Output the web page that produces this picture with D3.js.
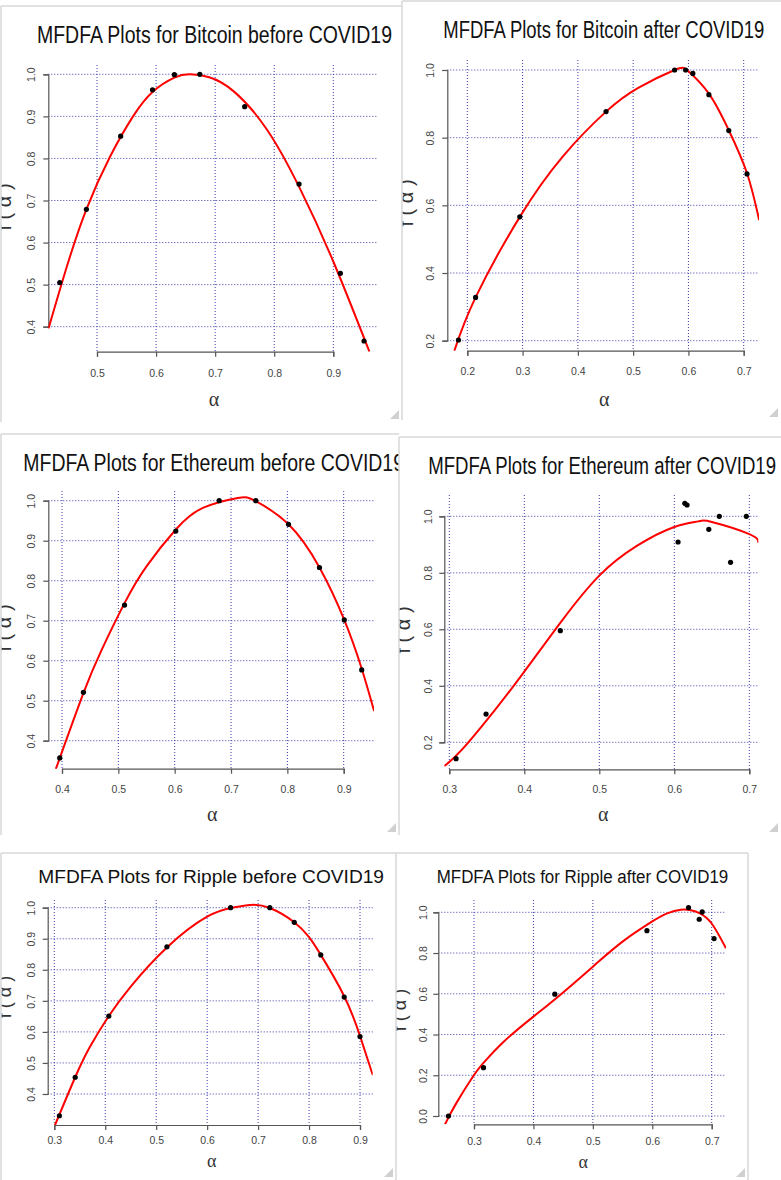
<!DOCTYPE html>
<html>
<head>
<meta charset="utf-8">
<title>MFDFA Plots</title>
<style>
body { margin: 0; background: #fff; }
svg { display: block; font-family: "Liberation Sans", Arial, sans-serif; }
.grid line { stroke: #3c3cac; stroke-width: 1; stroke-dasharray: 1,2; }
.axis path, .axis line { stroke: #555; stroke-width: 1.2; }
.axis text { fill: #444; font-size: 10.5px; font-family: "Liberation Sans", Arial, sans-serif; }
.frame { fill: none; stroke: #d8d8d8; stroke-width: 1.5; }
</style>
<script src="https://cdn.jsdelivr.net/npm/d3@7"></script>
</head>
<body>
<svg id="chart" width="781" height="1180"></svg>
<script>
// ---- data ----
// Bitcoin before
const btcBeforeAlpha = [0.437, 0.482, 0.540, 0.594, 0.631, 0.674, 0.750, 0.842, 0.912, 0.952];
const btcBeforeF     = [0.505, 0.679, 0.853, 0.963, 0.999, 1.000, 0.923, 0.739, 0.527, 0.366];
const btcBeforeFitAlpha = [0.418, 0.449, 0.482, 0.522, 0.561, 0.594, 0.631, 0.657, 0.690, 0.731, 0.787, 0.843, 0.900, 0.961];
const btcBeforeFitF     = [0.396, 0.543, 0.679, 0.804, 0.900, 0.958, 0.992, 1.000, 0.993, 0.960, 0.870, 0.730, 0.555, 0.341];
const btcBeforeTicksX = [0.5, 0.6, 0.7, 0.8, 0.9];
const btcBeforeTicksY = [0.4, 0.5, 0.6, 0.7, 0.8, 0.9, 1.0];

// Bitcoin after
const btcAfterAlpha = [0.184, 0.215, 0.295, 0.451, 0.575, 0.595, 0.608, 0.637, 0.673, 0.706];
const btcAfterF     = [0.202, 0.328, 0.566, 0.877, 1.000, 1.000, 0.990, 0.927, 0.821, 0.693];
const btcAfterFitAlpha = [0.1765, 0.215, 0.295, 0.373, 0.451, 0.510, 0.575, 0.600, 0.637, 0.673, 0.706, 0.728];
const btcAfterFitF     = [0.170, 0.328, 0.566, 0.745, 0.877, 0.948, 1.000, 0.996, 0.930, 0.822, 0.695, 0.556];
const btcAfterTicksX = [0.2, 0.3, 0.4, 0.5, 0.6, 0.7];
const btcAfterTicksY = [0.2, 0.4, 0.6, 0.8, 1.0];

// Ethereum before
const ethBeforeAlpha = [0.396, 0.438, 0.511, 0.602, 0.679, 0.744, 0.802, 0.857, 0.901, 0.932];
const ethBeforeF     = [0.357, 0.521, 0.739, 0.924, 1.000, 1.000, 0.941, 0.833, 0.702, 0.577];
const ethBeforeFitAlpha = [0.389, 0.438, 0.470, 0.511, 0.550, 0.602, 0.650, 0.712, 0.744, 0.802, 0.857, 0.901, 0.932, 0.954];
const ethBeforeFitF     = [0.329, 0.519, 0.626, 0.744, 0.836, 0.928, 0.982, 1.007, 0.999, 0.941, 0.833, 0.702, 0.580, 0.474];
const ethBeforeTicksX = [0.4, 0.5, 0.6, 0.7, 0.8, 0.9];
const ethBeforeTicksY = [0.4, 0.5, 0.6, 0.7, 0.8, 0.9, 1.0];

// Ethereum after
const ethAfterAlpha = [0.309, 0.349, 0.448, 0.605, 0.614, 0.617, 0.646, 0.660, 0.675, 0.696];
const ethAfterF     = [0.142, 0.300, 0.595, 0.909, 1.046, 1.040, 0.954, 1.000, 0.837, 1.000];
const ethAfterFitAlpha = [0.2933, 0.3165, 0.361, 0.400, 0.450, 0.500, 0.550, 0.600, 0.632, 0.650, 0.700, 0.712];
const ethAfterFitF     = [0.116, 0.173, 0.315, 0.450, 0.630, 0.790, 0.895, 0.962, 0.982, 0.980, 0.937, 0.906];
const ethAfterTicksX = [0.3, 0.4, 0.5, 0.6, 0.7];
const ethAfterTicksY = [0.2, 0.4, 0.6, 0.8, 1.0];

// Ripple before
const xrpBeforeAlpha = [0.310, 0.341, 0.407, 0.521, 0.646, 0.723, 0.771, 0.823, 0.869, 0.900];
const xrpBeforeF     = [0.330, 0.454, 0.651, 0.874, 1.000, 1.000, 0.953, 0.848, 0.712, 0.585];
const xrpBeforeFitAlpha = [0.3014, 0.341, 0.370, 0.407, 0.450, 0.521, 0.600, 0.650, 0.685, 0.723, 0.771, 0.800, 0.823, 0.869, 0.900, 0.925];
const xrpBeforeFitF     = [0.300, 0.454, 0.552, 0.651, 0.746, 0.872, 0.971, 1.000, 1.009, 0.999, 0.953, 0.905, 0.848, 0.715, 0.587, 0.461];
const xrpBeforeTicksX = [0.3, 0.4, 0.5, 0.6, 0.7, 0.8, 0.9];
const xrpBeforeTicksY = [0.4, 0.5, 0.6, 0.7, 0.8, 0.9, 1.0];

// Ripple after
const xrpAfterAlpha = [0.257, 0.316, 0.436, 0.591, 0.661, 0.679, 0.684, 0.704];
const xrpAfterF     = [0.000, 0.237, 0.598, 0.910, 1.023, 0.966, 1.002, 0.871];
const xrpAfterFitAlpha = [0.2512, 0.270, 0.300, 0.3163, 0.350, 0.400, 0.4363, 0.500, 0.550, 0.600, 0.625, 0.648, 0.665, 0.680, 0.700, 0.724];
const xrpAfterFitF     = [-0.041, 0.062, 0.201, 0.262, 0.365, 0.488, 0.573, 0.733, 0.856, 0.955, 0.995, 1.013, 1.010, 0.995, 0.945, 0.823];
const xrpAfterTicksX = [0.3, 0.4, 0.5, 0.6, 0.7];
const xrpAfterTicksY = [0.0, 0.2, 0.4, 0.6, 0.8, 1.0];

// ---- where each screenshot sits on the page ----
// frame: [x, y, w, h]; plot: [left, top, right, bottom]; xPx/yPx: pixel of first and last tick
const panels = [
  { title: "MFDFA Plots for Bitcoin before COVID19", alpha: btcBeforeAlpha, f: btcBeforeF,
    fitAlpha: btcBeforeFitAlpha, fitF: btcBeforeFitF, ticksX: btcBeforeTicksX, ticksY: btcBeforeTicksY,
    frame: [1, 6, 401, 416], edges: "lt", plot: [48.3, 65, 377, 351.7], xPx: [97, 333.3], yPx: [326.7, 74.3],
    titleX: [37, 392], titleY: 43.3, titleSize: 23, xLabOff: 25, yLabOff: 13,
    alphaPos: [214, 406], fLab: [11, 207], labSize: 20 },
  { title: "MFDFA Plots for Bitcoin after COVID19", alpha: btcAfterAlpha, f: btcAfterF,
    fitAlpha: btcAfterFitAlpha, fitF: btcAfterFitF, ticksX: btcAfterTicksX, ticksY: btcAfterTicksY,
    frame: [402, 1, 379, 419], edges: "lt", plot: [447.3, 60, 759, 350.7], xPx: [467.3, 743.7], yPx: [340.7, 70],
    titleX: [443.3, 764.3], titleY: 38.3, titleSize: 23, xLabOff: 24.5, yLabOff: 13,
    alphaPos: [604.3, 406], fLab: [413, 203], labSize: 20 },
  { title: "MFDFA Plots for Ethereum before COVID19", alpha: ethBeforeAlpha, f: ethBeforeF,
    fitAlpha: ethBeforeFitAlpha, fitF: ethBeforeFitF, ticksX: ethBeforeTicksX, ticksY: ethBeforeTicksY,
    frame: [1, 434, 398, 401], edges: "lt", plot: [48.3, 491, 374, 768.7], xPx: [62, 343.7], yPx: [740.7, 500.7],
    titleX: [23.3, 404], titleY: 471, titleSize: 23, xLabOff: 24, yLabOff: 13,
    alphaPos: [212.3, 821], fLab: [11, 628], labSize: 20 },
  { title: "MFDFA Plots for Ethereum after COVID19", alpha: ethAfterAlpha, f: ethAfterF,
    fitAlpha: ethAfterFitAlpha, fitF: ethAfterFitF, ticksX: ethAfterTicksX, ticksY: ethAfterTicksY,
    frame: [399, 437, 382, 398], edges: "lt", plot: [444.3, 495, 758.3, 769.3], xPx: [449.3, 749.3], yPx: [742.3, 516.3],
    titleX: [428.3, 776], titleY: 474, titleSize: 23, xLabOff: 23.5, yLabOff: 12.4,
    alphaPos: [603.3, 821], fLab: [410, 630], labSize: 20 },
  { title: "MFDFA Plots for Ripple before COVID19", alpha: xrpBeforeAlpha, f: xrpBeforeF,
    fitAlpha: xrpBeforeFitAlpha, fitF: xrpBeforeFitF, ticksX: xrpBeforeTicksX, ticksY: xrpBeforeTicksY,
    frame: [1, 853, 395, 327], edges: "lt", plot: [47.7, 900, 372.7, 1125], xPx: [54.3, 360], yPx: [1094, 907.7],
    titleX: [38.3, 384], titleY: 883.3, titleSize: 18, xLabOff: 18.5, yLabOff: 12.4,
    alphaPos: [211.7, 1167], fLab: [11, 997], labSize: 18 },
  { title: "MFDFA Plots for Ripple after COVID19", alpha: xrpAfterAlpha, f: xrpAfterF,
    fitAlpha: xrpAfterFitAlpha, fitF: xrpAfterFitF, ticksX: xrpAfterTicksX, ticksY: xrpAfterTicksY,
    frame: [396, 853, 352, 327], edges: "ltr", plot: [438.3, 900, 726, 1124.3], xPx: [474, 711.7], yPx: [1116, 912.3],
    titleX: [436.7, 728.3], titleY: 883.3, titleSize: 18, xLabOff: 21, yLabOff: 11.4,
    alphaPos: [583.3, 1168], fLab: [406, 1010], labSize: 18 }
];

const svg = d3.select("#chart");
const defs = svg.append("defs");

panels.forEach(function(p, i) {
  const [fx, fy, fw, fh] = p.frame;
  const [pl, pt, pr, pb] = p.plot;

  // clip for the whole screenshot and for the plotting region
  defs.append("clipPath").attr("id", "frame" + i)
    .append("rect").attr("x", fx).attr("y", fy).attr("width", fw).attr("height", fh);
  defs.append("clipPath").attr("id", "plot" + i)
    .append("rect").attr("x", pl).attr("y", pt).attr("width", pr - pl).attr("height", pb - pt);

  const g = svg.append("g").attr("clip-path", "url(#frame" + i + ")");

  // scales pinned on first and last tick
  const x = d3.scaleLinear()
    .domain([p.ticksX[0], p.ticksX[p.ticksX.length - 1]]).range(p.xPx);
  const y = d3.scaleLinear()
    .domain([p.ticksY[0], p.ticksY[p.ticksY.length - 1]]).range(p.yPx);

  // title
  g.append("text")
    .attr("x", p.titleX[0]).attr("y", p.titleY)
    .attr("textLength", p.titleX[1] - p.titleX[0])
    .attr("lengthAdjust", "spacingAndGlyphs")
    .style("font-size", p.titleSize + "px")
    .style("fill", "#111")
    .text(p.title);

  // dotted grid
  const grid = g.append("g").attr("class", "grid");
  grid.selectAll(".h").data(p.ticksY).enter().append("line")
    .attr("x1", pl).attr("x2", pr)
    .attr("y1", d => y(d)).attr("y2", d => y(d));
  grid.selectAll(".v").data(p.ticksX).enter().append("line")
    .attr("x1", d => x(d)).attr("x2", d => x(d))
    .attr("y1", pt).attr("y2", pb);

  // x axis
  const xAxis = g.append("g").attr("class", "axis")
    .attr("transform", "translate(0," + pb + ")")
    .call(d3.axisBottom(x).tickValues(p.ticksX).tickSize(5).tickFormat(d3.format(".1f")));
  xAxis.selectAll("text").attr("y", p.xLabOff).attr("dy", null);

  // y axis with rotated labels
  const yAxis = g.append("g").attr("class", "axis")
    .attr("transform", "translate(" + pl + ",0)")
    .call(d3.axisLeft(y).tickValues(p.ticksY).tickSize(5).tickFormat(d3.format(".1f")));
  yAxis.selectAll("text")
    .attr("transform", "rotate(-90)")
    .attr("x", 0).attr("y", -p.yLabOff).attr("dy", null)
    .style("text-anchor", "middle");

  // fitted curve
  const line = d3.line()
    .x(d => x(d[0])).y(d => y(d[1]))
    .curve(d3.curveNatural);
  g.append("path")
    .datum(d3.zip(p.fitAlpha, p.fitF))
    .attr("clip-path", "url(#plot" + i + ")")
    .attr("d", line)
    .attr("fill", "none")
    .attr("stroke", "#ff0000")
    .attr("stroke-width", 2);

  // points
  g.selectAll(".pt").data(d3.zip(p.alpha, p.f)).enter().append("circle")
    .attr("cx", d => x(d[0])).attr("cy", d => y(d[1]))
    .attr("r", 2.6).attr("fill", "#000");

  // axis titles
  g.append("text")
    .attr("x", p.alphaPos[0]).attr("y", p.alphaPos[1])
    .attr("text-anchor", "middle")
    .style("font-family", "'Liberation Serif', serif")
    .style("font-size", p.labSize + "px")
    .style("fill", "#333")
    .text("α");
  g.append("text")
    .attr("transform", "translate(" + p.fLab[0] + "," + p.fLab[1] + ") rotate(-90)")
    .attr("text-anchor", "middle")
    .style("font-size", p.labSize + "px")
    .style("fill", "#333")
    .text("f ( α )");

  // screenshot frame edges and resize grip
  let edge = "";
  if (p.edges.indexOf("l") >= 0) edge += "M" + fx + "," + (fy + fh) + "V" + fy;
  if (p.edges.indexOf("t") >= 0) edge += "M" + fx + "," + fy + "H" + (fx + fw);
  if (p.edges.indexOf("r") >= 0) edge += "M" + (fx + fw) + "," + fy + "V" + (fy + fh);
  svg.append("path").attr("class", "frame").attr("d", edge);
  const gx = fx + fw - 3, gy = fy + fh - 3;
  svg.append("path")
    .attr("d", "M" + (gx - 9) + "," + gy + "L" + gx + "," + (gy - 9) + "L" + gx + "," + gy + "Z")
    .attr("fill", "#d0d0d0");
});
</script>
</body>
</html>
